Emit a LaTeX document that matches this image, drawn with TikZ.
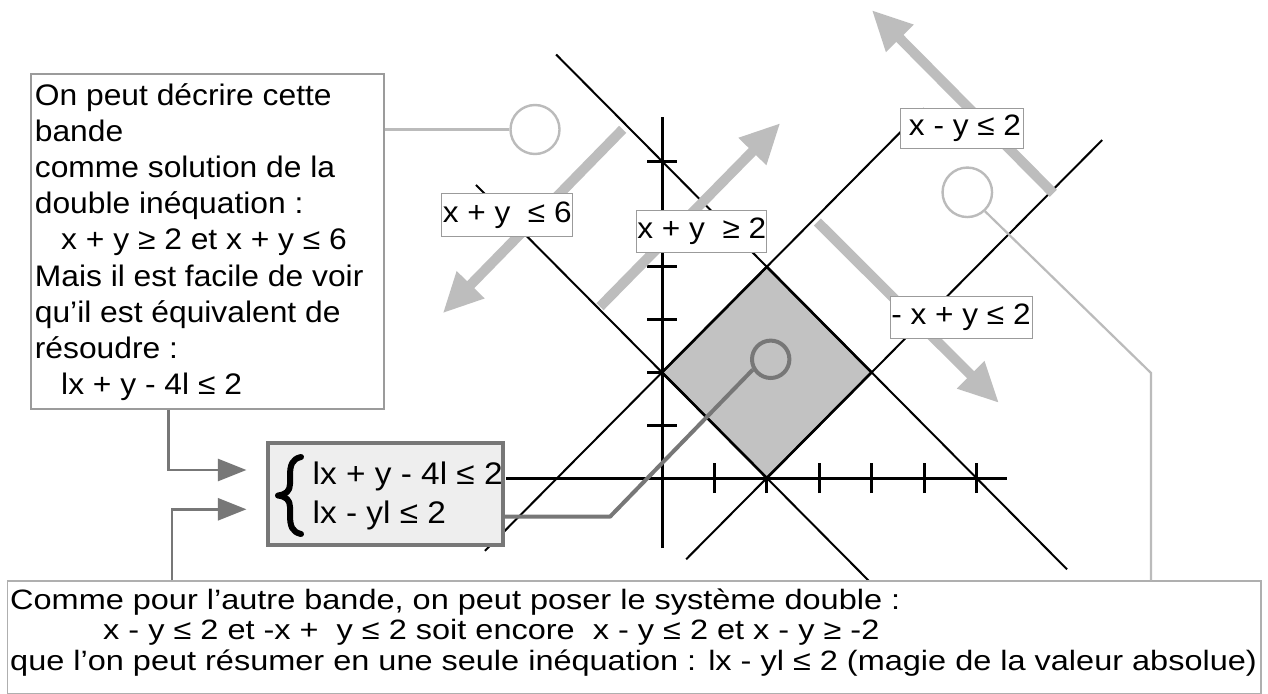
\documentclass[tikz,border=0pt]{standalone}
\usepackage{fontspec}
\setmainfont{Liberation Sans}[FakeStretch=1.07]
\newfontfamily\botfont{Liberation Sans}[FakeStretch=1.16]
\usetikzlibrary{arrows.meta}
\definecolor{lightline}{RGB}{187,187,187}
\definecolor{arrowgray}{RGB}{189,189,189}
\definecolor{darkgraytwo}{RGB}{119,119,119}
\definecolor{boxborder}{RGB}{155,155,155}
\definecolor{botborder}{RGB}{175,175,175}
\definecolor{squarefill}{RGB}{194,194,194}
\definecolor{sysfill}{RGB}{238,238,238}
\tikzset{
  maintext/.style={font=\fontsize{29.7}{36}\selectfont, inner sep=0pt, anchor=base west},
  systext/.style={font=\fontsize{31.2}{36}\selectfont, inner sep=0pt, anchor=base west},
  bottext/.style={font=\botfont\fontsize{28}{31}\selectfont, inner sep=0pt, anchor=base west},
  labelbox/.style={draw=boxborder, line width=1pt, fill=white, inner sep=0pt,
                   font=\fontsize{29.5}{34}\selectfont},
  bigarrow/.style={draw=arrowgray, line width=10pt, -{Triangle[length=40pt,width=36pt]}},
  graphline/.style={draw=black, line width=2pt},
  axisline/.style={draw=black, line width=3pt},
  axtick/.style={draw=black, line width=3pt},
  connlight/.style={draw=lightline, line width=2.2pt},
  conndark/.style={draw=darkgraytwo, line width=4pt},
  connarrow/.style={draw=darkgraytwo, line width=2.7pt, -{Triangle[length=28.5pt,width=22pt]}},
  lightcircle/.style={circle, draw=lightline, line width=2.4pt, inner sep=0pt},
  bracestroke/.style={draw=black, line width=6pt, line cap=round, line join=round},
}
\begin{document}
\begin{tikzpicture}[x=1pt,y=-1pt]
\useasboundingbox (0,0) rectangle (1268,693);
\path[fill=white] (0,0) rectangle (1268,693);

% ---------------- graph ----------------
\begin{scope}[shift={(662,478)},x=52.4pt,y=52.8pt]
  \draw[axisline] (-2.98,0) -- (6.58,0);
  \draw[axisline] (0,-1.33) -- (0,6.83);
  \foreach \i in {1,...,6} {
    \draw[axtick] (\i,-0.284) -- (\i,0.284);
    \draw[axtick] (-0.286,\i) -- (0.286,\i);
  }
  \fill[squarefill] (0,2) -- (2,0) -- (4,2) -- (2,4) -- cycle;
  \draw[line width=2.6pt] (0,2) -- (2,0) -- (4,2) -- (2,4) -- cycle;
  \draw[graphline] (-2.02,8.02) -- (7.73,-1.73);
  \draw[graphline] (-3.55,5.55) -- (3.95,-1.95);
  \draw[graphline] (-3.38,-1.38) -- (5,7);
  \draw[graphline] (0.46,-1.54) -- (8.4,6.4);
\end{scope}

% ---------------- big grey arrows ----------------
\coordinate (aAs) at (622.7,129.3);
\coordinate (aAe) at (442.7,313.3);
\coordinate (aBs) at (600,306.7);
\coordinate (aBe) at (780.4,123);
\coordinate (aCs) at (817.4,222);
\coordinate (aCe) at (999,403);
\coordinate (aDs) at (1053.3,193.3);
\coordinate (aDe) at (871.7,10);
\draw[bigarrow] (aAs) -- (aAe);
\draw[bigarrow] (aBs) -- (aBe);
\draw[bigarrow] (aCs) -- (aCe);
\draw[bigarrow] (aDs) -- (aDe);

% ---------------- labels ----------------
\node[labelbox, minimum width=131pt, minimum height=42.7pt] (lab6) at (507.2,215.3) {x + y\ \ ≤ 6};
\node[labelbox, minimum width=130.3pt, minimum height=42.3pt] (lab2) at (701.8,231.2) {x + y\ \ ≥ 2};
\node[labelbox, minimum width=122.6pt, minimum height=40pt] (labxy) at (962,128.3) {\hspace*{6pt}x - y ≤ 2};
\node[labelbox, minimum width=142pt, minimum height=42pt] (labyx) at (961,317) {- x + y ≤ 2};

% ---------------- circles ----------------
\node[lightcircle, minimum size=49pt] (c1) at (535,129.5) {};
\node[lightcircle, minimum size=49.5pt] (c2) at (967.3,192.3) {};
\node[circle, draw=darkgraytwo, line width=4pt, inner sep=0pt, minimum size=37.4pt] (c3) at (770.7,359.3) {};

% ---------------- boxes ----------------
\node[draw=boxborder, line width=1.2pt, fill=white, minimum width=353pt, minimum height=335pt, inner sep=0pt] (lbox) at (207.5,241.5) {};
\node[draw=darkgraytwo, line width=4.3pt, fill=sysfill, minimum width=235pt, minimum height=102pt, inner sep=0pt] (sys) at (385.5,494) {};
\node[draw=botborder, line width=1.2pt, fill=white, minimum width=1253.5pt, minimum height=113pt, inner sep=0pt] (bbox) at (634.25,637.5) {};

% ---------------- connectors ----------------
\draw[connlight] (lbox.east |- c1) -- (c1.west);
\coordinate (k2) at (1151,373);
\draw[connlight] (c2.313) -- (k2) -- (bbox.north -| k2);
\coordinate (d1) at (610,516.7);
\draw[conndark, line join=round] (sys.east |- d1) -- (d1) -- (c3.210);
\coordinate (a1b) at (168.6,470);
\coordinate (a1e) at (246.4,470);
\draw[connarrow] (lbox.south -| a1b) -- (a1b) -- (a1e);
\coordinate (a2b) at (172,509.3);
\coordinate (a2e) at (246.4,509.3);
\draw[connarrow] (bbox.north -| a2b) -- (a2b) -- (a2e);

% ---------------- brace ----------------
\draw[bracestroke] (301,457) .. controls (292,459) and (290,465) .. (290,476)
  -- (290,484) .. controls (290,491) and (286,494.5) .. (278,495.5)
  .. controls (286,496.5) and (290,500) .. (290,507)
  -- (290,515) .. controls (290,526) and (292,532) .. (301,534);

% ---------------- texts ----------------
\foreach \txt/\xx [count=\i] in {On peut décrire cette/34.7, bande/34.7, comme solution de la/34.7,
  double inéquation :/34.7, x + y ≥ 2 et x + y ≤ 6/61, Mais il est facile de voir/34.7,
  qu’il est équivalent de/34.7, résoudre :/34.7, lx + y - 4l ≤ 2/61} {
  \node[maintext, name=lt\i] at ({\xx},{105+36.2*(\i-1)}) {\txt};
}
\node[systext] (s1) at (312.5,484.5) {lx + y - 4l ≤ 2};
\node[systext] (s2) at (312.5,523) {lx - yl ≤ 2};

\node[bottext] (bt1) at (10,609) {Comme pour l’autre bande, on peut poser le système double :};
\node[bottext] (bt2) at (103,639.5) {x - y ≤ 2 et -x +\ \ y ≤ 2 soit encore\ \ x - y ≤ 2 et x - y ≥ -2};
\node[bottext] (bt3) at (10,670) {que l’on peut résumer en une seule inéquation : lx - yl ≤ 2 (magie de la valeur absolue)};
\end{tikzpicture}
\end{document}
